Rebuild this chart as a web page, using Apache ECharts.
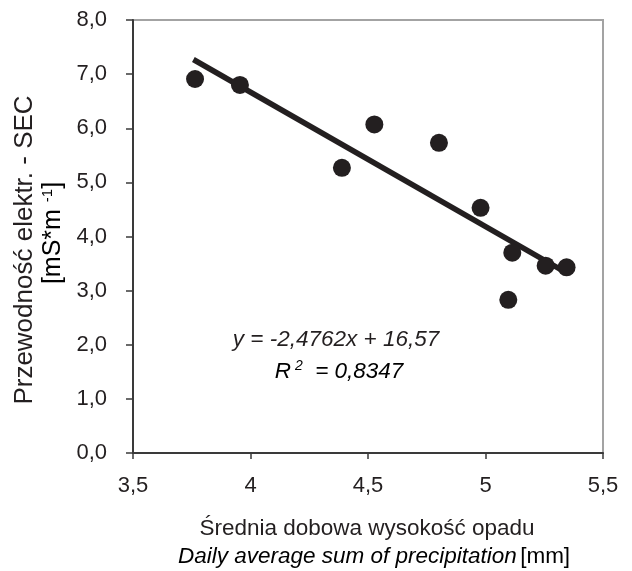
<!DOCTYPE html>
<html>
<head>
<meta charset="utf-8">
<script src="https://cdn.jsdelivr.net/npm/echarts@6/dist/echarts.min.js"></script>
<style>
html,body{margin:0;padding:0;background:#fff;}
#c{width:632px;height:571px;}
</style>
</head>
<body>
<div id="c"></div>
<script>
// Data
var precip = [3.764, 3.955, 4.389, 4.527, 4.802, 4.979, 5.114, 5.097, 5.256, 5.345];
var sec    = [6.91, 6.80, 5.27, 6.07, 5.73, 4.53, 3.70, 2.83, 3.46, 3.43];
// Trend line end points (as drawn)
var trendX = [3.757, 5.345];
var trendY = [7.27, 3.33];
var xTicks = ['3,5', '4', '4,5', '5', '5,5'];
var yTicks = ['0,0', '1,0', '2,0', '3,0', '4,0', '5,0', '6,0', '7,0', '8,0'];
var equation = 'y = -2,4762x + 16,57';
var r2 = '0,8347';

var FONT = '"Liberation Sans", Arial, sans-serif';
var ink = '#231f20';

var pts = precip.map(function (x, i) { return [x, sec[i]]; });
var trend = trendX.map(function (x, i) { return [x, trendY[i]]; });

var chart = echarts.init(document.getElementById('c'), null, {renderer: 'canvas'});
chart.setOption({
  backgroundColor: '#fff',
  animation: false,
  grid: {
    left: 133, right: 29, top: 20, bottom: 118,
    show: true, borderColor: '#a3a3a3', borderWidth: 2, backgroundColor: '#fff'
  },
  xAxis: {
    type: 'value', min: 3.5, max: 5.5, interval: 0.5,
    axisLine: {show: true, lineStyle: {color: '#3a3a3a', width: 2}},
    axisTick: {show: true, length: 6, lineStyle: {color: '#3a3a3a', width: 1.5}},
    splitLine: {show: false},
    axisLabel: {
      margin: 22, fontFamily: FONT, fontSize: 22, color: ink,
      formatter: function (v) { return xTicks[Math.round((v - 3.5) / 0.5)]; }
    }
  },
  yAxis: {
    type: 'value', min: 0, max: 8, interval: 1,
    axisLine: {show: true, lineStyle: {color: '#3a3a3a', width: 2}},
    axisTick: {show: true, length: 7, lineStyle: {color: '#3a3a3a', width: 1.5}},
    splitLine: {show: false},
    axisLabel: {
      margin: 26, fontFamily: FONT, fontSize: 22, color: ink,
      formatter: function (v) { return yTicks[Math.round(v)]; }
    }
  },
  series: [
    {
      type: 'line', data: trend, showSymbol: false, symbol: 'none',
      lineStyle: {color: ink, width: 5.5}, z: 2, silent: true
    },
    {
      type: 'scatter', data: pts, symbol: 'circle', symbolSize: 18,
      itemStyle: {color: ink, opacity: 1}, z: 3
    }
  ],
  graphic: [
    {
      type: 'text', x: 25, y: 250, rotation: Math.PI / 2,
      style: {text: 'Przewodność elektr. - SEC', font: '26px ' + FONT, fill: ink,
              align: 'center', verticalAlign: 'middle'}
    },
    {
      type: 'text', x: 53, y: 233, rotation: Math.PI / 2,
      style: {
        text: '{n|[mS*m }{s|-1}{n|]}',
        align: 'center', verticalAlign: 'middle',
        rich: {
          n: {font: '25px ' + FONT, color: ink},
          s: {font: '15px ' + FONT, color: ink, padding: [0, 0, 10, 0]}
        }
      }
    },
    {
      type: 'text', x: 336, y: 340,
      style: {text: equation, font: 'italic 22.5px ' + FONT, fill: ink,
              align: 'center', verticalAlign: 'middle'}
    },
    {
      type: 'text', x: 339, y: 372,
      style: {
        text: '{r|R}{s|2}{r|  = ' + r2 + '}',
        align: 'center', verticalAlign: 'middle',
        rich: {
          r: {font: 'italic 22.5px ' + FONT, color: ink},
          s: {font: 'italic 14px ' + FONT, color: ink, padding: [0, 0, 12, 4]}
        }
      }
    },
    {
      type: 'text', x: 367, y: 529,
      style: {text: 'Średnia dobowa wysokość opadu', font: '22.5px ' + FONT, fill: ink,
              align: 'center', verticalAlign: 'middle'}
    },
    {
      type: 'text', x: 374, y: 557,
      style: {
        text: '{i|Daily average sum of precipitation} {n|[mm]}',
        align: 'center', verticalAlign: 'middle',
        rich: {
          i: {font: 'italic 22.5px ' + FONT, color: ink},
          n: {font: '22.5px ' + FONT, color: ink}
        }
      }
    }
  ]
});
</script>
</body>
</html>
